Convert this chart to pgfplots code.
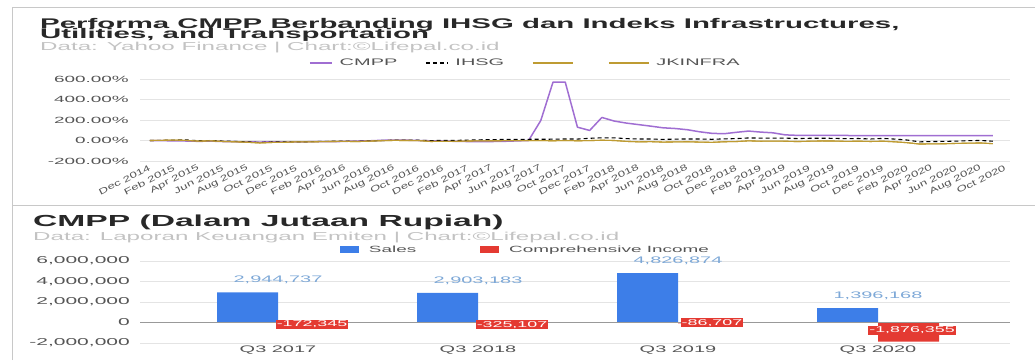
\documentclass[border=0pt]{standalone}
\usepackage{pgfplots}
\pgfplotsset{compat=1.18}
\usepackage{pgfplotstable}
\usepackage{fontspec}
\setmainfont{Liberation Sans}[FakeStretch=2.1]
\newfontfamily\rotfont{Liberation Sans}[FakeStretch=1.55]
\newcommand{\fs}[1]{\fontsize{#1}{#1}\selectfont}
\definecolor{cmpp}{RGB}{160,110,210}
\definecolor{gold}{RGB}{190,155,50}
\definecolor{sblue}{RGB}{61,126,232}
\definecolor{sred}{RGB}{228,58,50}
\definecolor{lblue}{RGB}{125,168,215}
\definecolor{gridc}{RGB}{228,228,228}
\definecolor{tickc}{RGB}{85,85,85}
\definecolor{subc}{RGB}{195,195,195}
\definecolor{framec}{RGB}{200,200,200}
\definecolor{titlec}{RGB}{40,40,40}
\pgfplotsset{
  shortline/.style={legend image code/.code={\draw[##1] (0pt,0pt) -- (22pt,0pt);}},
  longline/.style={legend image code/.code={\draw[##1] (0pt,0pt) -- (40pt,0pt);}},
  boxleg/.style={legend image code/.code={\fill[##1] (0pt,-3.5pt) rectangle (19pt,3.5pt);}},
}

\pgfplotstableread{
m cmpp ihsg infra
0 0 0 0
1 -2 1.2 1.7
2 -3 4.3 4.3
3 -5 5.6 0.9
4 -8 -2.7 -6.0
5 -6 -0.2 -3.4
6 -10 -6.0 -9.5
7 -12 -8.1 -12.9
8 -14 -13.7 -17.2
9 -15 -19.2 -24.1
10 -13 -14.8 -19.0
11 -15 -14.9 -18.1
12 -14 -12.1 -12.9
13 -12 -11.7 -13.8
14 -10 -8.7 -11.2
15 -12 -7.3 -9.5
16 -8 -7.4 -8.6
17 -5 -8.2 -10.3
18 -3 -4.0 -6.0
19 2 -0.2 -1.7
20 4 3.0 0.9
21 3 2.6 0.0
22 0 3.7 -0.9
23 -3 -1.5 -9.5
24 -5 1.3 -7.8
25 -8 1.3 -8.6
26 -10 3.1 -5.2
27 -12 6.5 -3.4
28 -10 8.8 -2.6
29 -8 9.8 -1.7
30 -4 11.5 -0.9
31 0 11.7 -1.7
32 195 12.2 -0.9
33 570 12.9 -2.6
34 570 14.9 0.0
35 130 13.9 -2.6
36 98 21.6 -0.9
37 225 26.4 2.6
38 190 26.2 0.0
39 170 18.4 -8.6
40 155 14.7 -12.9
41 140 14.5 -11.2
42 124 10.9 -15.5
43 117 13.6 -13.8
44 105 15.1 -12.1
45 85 14.3 -15.5
46 70 11.6 -18.1
47 66 15.9 -12.1
48 80 18.5 -10.3
49 92 25.0 -3.4
50 82 23.3 -6.9
51 75 23.8 -6.0
52 55 23.5 -6.9
53 50 18.8 -10.3
54 50 21.7 -6.9
55 49 22.3 -4.3
56 49 21.1 -5.2
57 49 18.0 -8.6
58 48 19.2 -6.9
59 48 15.0 -9.5
60 48 20.5 -6.9
61 48 13.6 -12.9
62 47 4.3 -21.6
63 47 -13.2 -34.5
64 47 -9.8 -32.8
65 47 -9.0 -31.9
66 47 -6.2 -28.4
67 47 -1.5 -25.9
68 47 0.2 -24.1
69 47 -6.8 -31.0
}\perf

\begin{document}
\begin{tikzpicture}[x=1pt,y=1pt]
\useasboundingbox (0,0) rectangle (1035,360);
% panel frames
\draw[framec, line width=1pt] (12,0) -- (12,353) -- (1035,353);
\draw[framec, line width=1pt] (12,155) -- (1035,155);

% titles top
\node[anchor=base west, inner sep=0pt, text=titlec] at (40,332) {\fs{14}\bfseries Performa CMPP Berbanding IHSG dan Indeks Infrastructures,};
\node[anchor=base west, inner sep=0pt, text=titlec] at (40,321.5) {\fs{14}\bfseries Utilities, and Transportation};
\node[anchor=base west, inner sep=0pt, text=subc] at (40,310) {\fs{11.5}Data: Yahoo Finance | Chart:©Lifepal.co.id};

% titles bottom
\node[anchor=base west, inner sep=0pt, text=titlec] at (33,133.5) {\fs{16}\bfseries CMPP (Dalam Jutaan Rupiah)};
\node[anchor=base west, inner sep=0pt, text=subc] at (33,120) {\fs{11.5}Data: Laporan Keuangan Emiten | Chart:©Lifepal.co.id};

\begin{axis}[
  at={(140pt,199pt)}, anchor=south west, scale only axis,
  width=870pt, height=82pt,
  xmin=-0.8, xmax=70.4, ymin=-200, ymax=600,
  axis line style={draw=none}, tick style={draw=none},
  ymajorgrids, grid style={gridc, line width=0.8pt},
  ytick={-200,0,200,400,600},
  yticklabels={-200.00\%,0.00\%,200.00\%,400.00\%,600.00\%},
  yticklabel style={font=\fs{9}, text=tickc, anchor=east, inner sep=0pt, xshift=-11pt},
  xtick={0,2,...,70},
  xticklabels={Dec 2014,Feb 2015,Apr 2015,Jun 2015,Aug 2015,Oct 2015,Dec 2015,Feb 2016,Apr 2016,Jun 2016,Aug 2016,Oct 2016,Dec 2016,Feb 2017,Apr 2017,Jun 2017,Aug 2017,Oct 2017,Dec 2017,Feb 2018,Apr 2018,Jun 2018,Aug 2018,Oct 2018,Dec 2018,Feb 2019,Apr 2019,Jun 2019,Aug 2019,Oct 2019,Dec 2019,Feb 2020,Apr 2020,Jun 2020,Aug 2020,Oct 2020},
  xticklabel style={yshift=-6pt, rotate=27, anchor=east, inner sep=0pt, font=\rotfont\fs{8.5}, text=tickc},
  legend style={at={(0.443,1.195)}, anchor=center, draw=none, fill=none, font=\fs{9.5}, text=tickc,
    legend columns=4,
    /tikz/every odd column/.append style={column sep=5pt},
    /tikz/every even column/.append style={column sep=26pt}},
  legend cell align=left,
  clip=false,
]
\addplot[cmpp, line width=1.5pt, line join=round, shortline] table[x=m, y=cmpp] {\perf};
\addlegendentry{CMPP}
\addplot[black, line width=1.1pt, dash pattern=on 4pt off 3pt, shortline] table[x=m, y=ihsg] {\perf};
\addlegendentry{IHSG}
\addplot[gold, line width=1.1pt, longline] table[x=m, y=infra] {\perf};
\addlegendentry{}
\addplot[gold, line width=1.1pt, longline] table[x=m, y=infra] {\perf};
\addlegendentry{JKINFRA}
\end{axis}

\begin{axis}[
  at={(140pt,17pt)}, anchor=south west, scale only axis,
  width=870pt, height=82pt,
  xmin=-0.69, xmax=3.66, ymin=-2000000, ymax=6000000,
  scaled y ticks=false,
  axis line style={draw=none}, tick style={draw=none},
  ymajorgrids, grid style={gridc, line width=0.8pt},
  ytick={-2000000,0,2000000,4000000,6000000},
  yticklabels={{-2,000,000},{0},{2,000,000},{4,000,000},{6,000,000}},
  yticklabel style={font=\fs{10}, text=tickc, anchor=east, inner sep=0pt, xshift=-10pt},
  xtick={0,1,2,3},
  xticklabels={Q3 2017,Q3 2018,Q3 2019,Q3 2020},
  xticklabel style={font=\fs{9.5}, text=tickc, anchor=center, inner sep=0pt, yshift=-7pt},
  legend style={at={(0.443,1.14)}, anchor=center, draw=none, fill=none, font=\fs{9}, text=tickc,
    legend columns=2,
    /tikz/every odd column/.append style={column sep=8pt},
    /tikz/every even column/.append style={column sep=62pt}},
  clip=false,
]
\addplot[ybar, bar width=61pt, bar shift=-30.5pt, fill=sblue, draw=none, boxleg,
  point meta=explicit symbolic, nodes near coords,
  nodes near coords align={anchor=south},
  every node near coord/.append style={font=\fs{9.5}, text=lblue, yshift=5pt}]
  coordinates {(0,2944737) [2,944,737] (1,2903183) [2,903,183] (2,4826874) [4,826,874] (3,1396168) [1,396,168]};
\addlegendentry{Sales}
\addplot[ybar, bar width=61pt, bar shift=30.5pt, fill=sred, draw=none, boxleg]
  coordinates {(0,-172345) (1,-325107) (2,-86707) (3,-1876355)};
\addlegendentry{Comprehensive Income}
\draw[gray!80, line width=0.8pt] (axis cs:-0.69,0) -- (axis cs:3.66,0);
\addplot[draw=none, mark=none, forget plot, point meta=explicit symbolic, nodes near coords,
  nodes near coords align={anchor=center},
  every node near coord/.append style={font=\fs{8.5}, text=white, fill=sred, inner sep=1pt}]
  coordinates {(0.17,-150000) [-172,345] (1.17,-230000) [-325,107] (2.17,-10000) [-86,707] (3.17,-760000) [-1,876,355]};
\end{axis}
\end{tikzpicture}
\end{document}
